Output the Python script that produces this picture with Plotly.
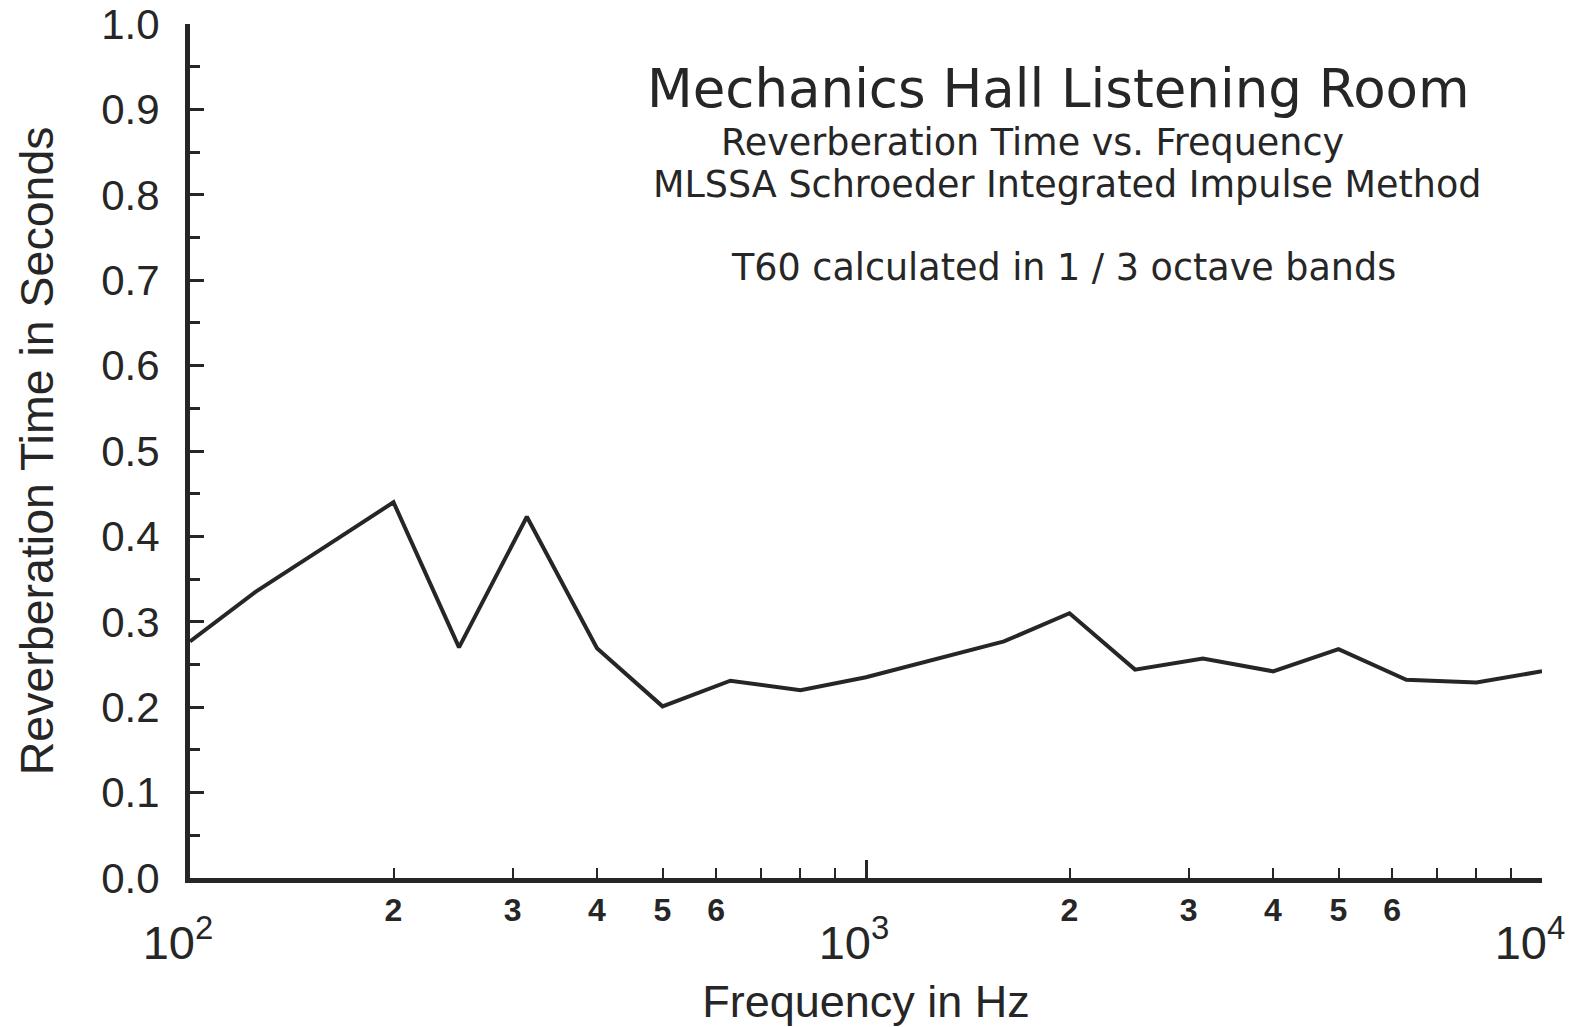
import plotly.graph_objects as go

# One-third octave band centre frequencies (Hz) and measured T60 (s)
freq_hz = [100, 125, 160, 200, 250, 315, 400, 500, 630, 800, 1000,
           1250, 1600, 2000, 2500, 3150, 4000, 5000, 6300, 8000, 10000]
t60_s = [0.277, 0.335, 0.390, 0.440, 0.270, 0.423, 0.269, 0.201, 0.231,
         0.220, 0.235, 0.255, 0.277, 0.310, 0.244, 0.257, 0.242, 0.268,
         0.232, 0.229, 0.242]

# Axis tick labels
y_tickvals = [0.0, 0.1, 0.2, 0.3, 0.4, 0.5, 0.6, 0.7, 0.8, 0.9, 1.0]
y_ticktext = ["0.0", "0.1", "0.2", "0.3", "0.4", "0.5", "0.6", "0.7", "0.8", "0.9", "1.0"]
labelled_tickvals = [200, 300, 400, 500, 600, 2000, 3000, 4000, 5000, 6000]
labelled_ticktext = ["2", "3", "4", "5", "6", "2", "3", "4", "5", "6"]
unlabelled_tickvals = [700, 800, 900, 7000, 8000, 9000]
decade_tickvals = [100, 1000, 10000]
decade_ticktext = ["10<sup>2</sup>", "10<sup>3</sup>", "10<sup>4</sup>"]

y_title = "Reverberation Time in Seconds"
title_lines = [
    "Mechanics Hall Listening Room",
    "Reverberation Time vs. Frequency",
    "MLSSA Schroeder Integrated Impulse Method",
    "T60 calculated in 1 / 3 octave bands",
]

INK = "#262626"
FONT = "Liberation Sans"
TFONT = "DejaVu Sans"

fig = go.Figure()
fig.add_trace(go.Scatter(
    x=freq_hz, y=t60_s, mode="lines",
    line=dict(color=INK, width=4), showlegend=False,
))
# invisible trace to activate the decade-label axis
fig.add_trace(go.Scatter(
    x=[freq_hz[0], freq_hz[-1]], y=[t60_s[0], t60_s[-1]], mode="lines",
    line=dict(width=0), xaxis="x2", showlegend=False, hoverinfo="skip",
))

fig.update_layout(
    width=1585, height=1027,
    margin=dict(l=190, r=43, t=24, b=149),
    paper_bgcolor="white", plot_bgcolor="white",
    xaxis=dict(
        type="log", range=[2, 4], automargin=False,
        tickvals=labelled_tickvals, ticktext=labelled_ticktext,
        ticks="inside", ticklen=10, tickwidth=2, tickcolor=INK,
        minor=dict(tickvals=unlabelled_tickvals, ticks="inside",
                   ticklen=10, tickwidth=2, tickcolor=INK, showgrid=False),
        ticklabelstandoff=0,
        tickfont=dict(family=FONT, size=32, color=INK, weight="bold"),
        showline=True, linecolor=INK, linewidth=5,
        showgrid=False, zeroline=False,
        title=dict(text="Frequency in Hz", standoff=62,
                   font=dict(family=FONT, size=45, color=INK)),
    ),
    xaxis2=dict(
        type="log", range=[2, 4], overlaying="x", anchor="y", side="bottom",
        automargin=False,
        tickvals=decade_tickvals, ticktext=decade_ticktext,
        ticks="inside", ticklen=18, tickwidth=3, tickcolor=INK,
        ticklabelstandoff=33, ticklabelshift=-12,
        tickfont=dict(family=FONT, size=47, color=INK),
        showline=False, showgrid=False, zeroline=False,
    ),
    yaxis=dict(
        range=[0, 1.0], automargin=False,
        tickvals=y_tickvals, ticktext=y_ticktext,
        ticks="inside", ticklen=14, tickwidth=3, tickcolor=INK,
        minor=dict(dtick=0.05, ticks="inside", ticklen=10, tickwidth=3, tickcolor=INK),
        ticklabelstandoff=17,
        tickfont=dict(family=FONT, size=42, color=INK),
        showline=True, linecolor=INK, linewidth=5,
        showgrid=False, zeroline=False,
    ),
)

# Vertical axis title
fig.add_annotation(
    text=y_title, x=-0.113, y=0.5, xref="paper", yref="paper",
    xanchor="center", yanchor="middle", textangle=-90, showarrow=False,
    font=dict(family=FONT, size=46.5, color=INK),
)

# Title block inside the plotting area
title_specs = [
    (title_lines[0], 0.6425, 0.9240, 53),
    (title_lines[1], 0.6233, 0.8612, 36.5),
    (title_lines[2], 0.6492, 0.8120, 36.5),
    (title_lines[3], 0.6462, 0.7143, 36.5),
]
for text, xp, yp, size in title_specs:
    fig.add_annotation(
        text=text, x=xp, y=yp, xref="paper", yref="paper",
        xanchor="center", yanchor="middle", showarrow=False, borderpad=0,
        font=dict(family=TFONT, size=size, color=INK),
    )

fig.write_html("out.html")
